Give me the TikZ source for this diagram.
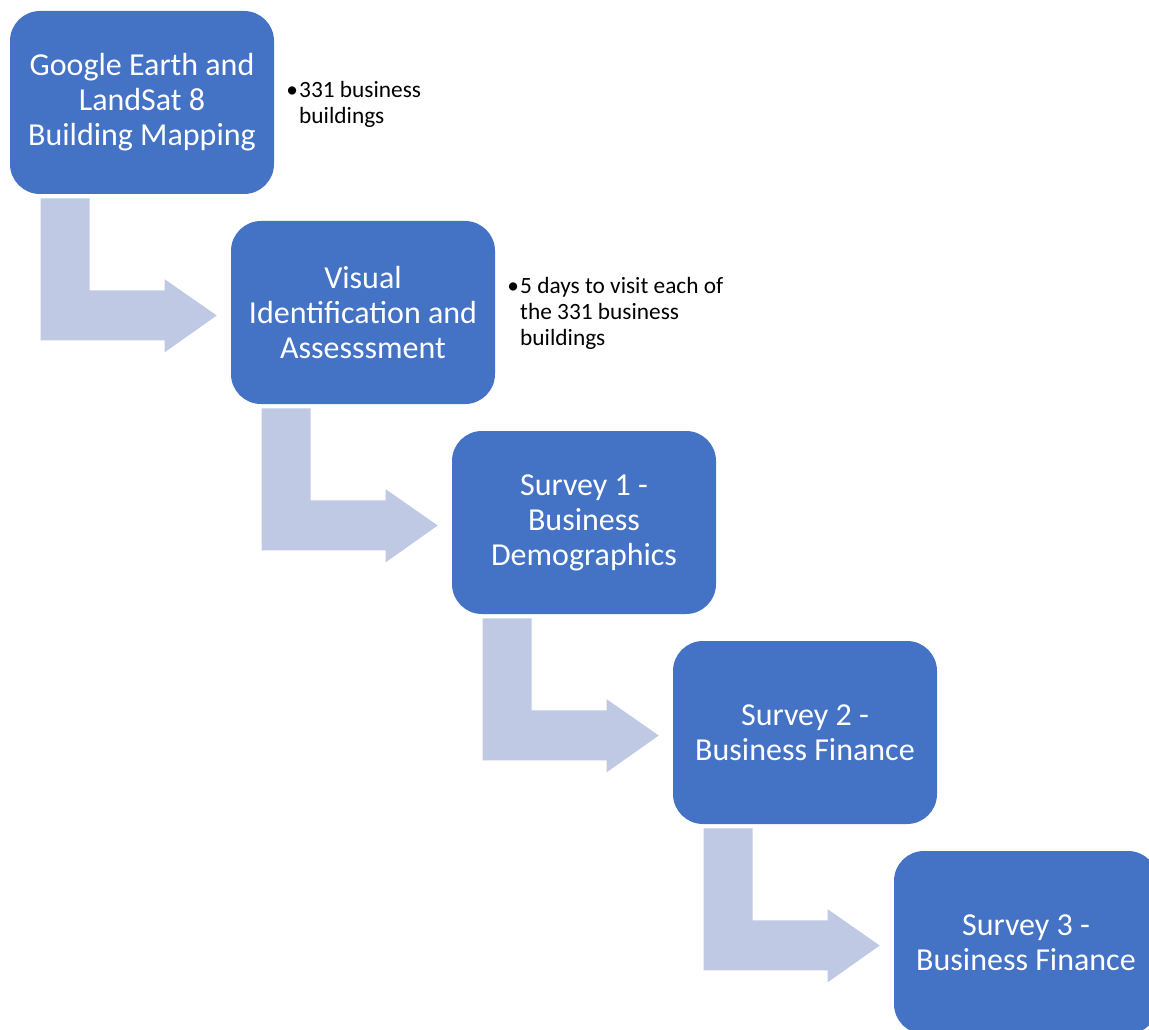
\documentclass[tikz,border=0pt]{standalone}
\usepackage{fontspec}
\setmainfont{Carlito}
\usetikzlibrary{calc}
\definecolor{boxblue}{HTML}{4472C4}
\definecolor{arrowblue}{HTML}{BFC9E3}
\newcommand{\myboxfont}{\fontsize{24}{26.25}\selectfont}
\newcommand{\mynotefont}{\fontsize{17.5}{19.5}\selectfont}
\tikzset{
  stepbox/.style={draw=none, fill=boxblue, rounded corners=22.5pt, minimum width=198pt, minimum height=137.25pt, align=center, text=white, inner sep=0pt, font=\myboxfont},
  sidenote/.style={anchor=north west, inner sep=0pt, align=left, text=black, font=\mynotefont},
  bentarrow/.style={fill=arrowblue, draw=none}
}
\begin{document}
\begin{tikzpicture}[x=0.75pt, y=-0.75pt]
\useasboundingbox (0,0) rectangle (1149,1030);
\clip (0,0) rectangle (1149,1030);
\node[stepbox] (b1) at (142,102.5) {Google Earth and\\LandSat 8\\Building Mapping};
\node[stepbox] (b2) at (363,312.5) {Visual\\Identification and\\Assesssment};
\node[stepbox] (b3) at (584,522.5) {Survey 1 -\\Business\\Demographics};
\node[stepbox] (b4) at (805,732.5) {Survey 2 -\\Business Finance};
\node[stepbox] (b5) at (1026,942.5) {Survey 3 -\\Business Finance};
\foreach \i/\j in {1/2,2/3,3/4,4/5} {
  \fill[bentarrow] ($(b\i.south west)+(31,4)$) -- ($(b\i.south west)+(80,4)$)
    -- ($(b\i.south west)+(80,96)$) -- ($(b\i.south west)+(155,96)$)
    -- ($(b\i.south west)+(155,85)$) -- ($(b\j.west)+(-14,3)$)
    -- ($(b\i.south west)+(155,158)$) -- ($(b\i.south west)+(155,146)$)
    -- ($(b\i.south west)+(31,146)$) -- cycle;
}
\node[sidenote] (n1) at (286,79) {\begin{tabular}{@{}l@{\hspace{1pt}}l@{}}•&331 business\\&buildings\end{tabular}};
\node[sidenote] (n2) at (507,275) {\begin{tabular}{@{}l@{\hspace{1pt}}l@{}}•&5 days to visit each of\\&the 331 business\\&buildings\end{tabular}};
\end{tikzpicture}
\end{document}
